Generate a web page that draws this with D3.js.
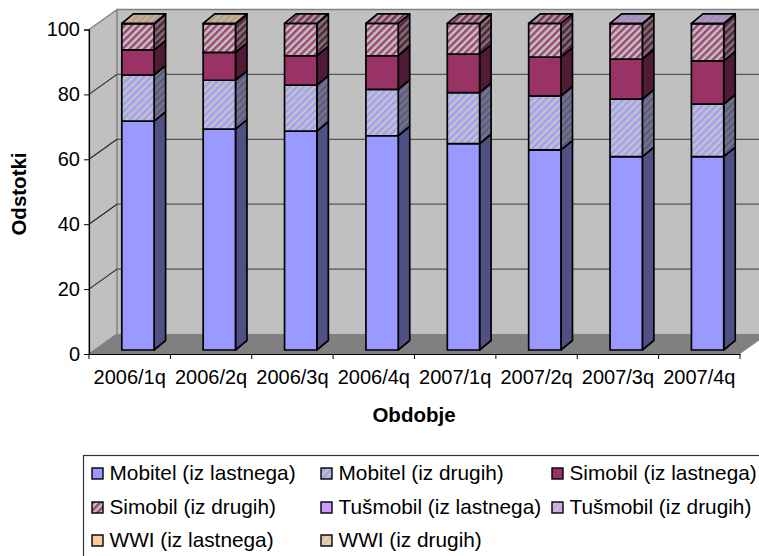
<!DOCTYPE html>
<html><head><meta charset="utf-8">
<script src="https://cdn.jsdelivr.net/npm/d3@7"></script>
<style>html,body{margin:0;padding:0;background:#fff}svg{display:block}text{font-family:"Liberation Sans",Arial,sans-serif;fill:#000}</style>
</head><body><svg id="c" width="759" height="556"></svg>
<script>
const categories=["2006/1q","2006/2q","2006/3q","2006/4q","2007/1q","2007/2q","2007/3q","2007/4q"];
const seriesNames=["Mobitel (iz lastnega)","Mobitel (iz drugih)","Simobil (iz lastnega)","Simobil (iz drugih)","Tušmobil (iz lastnega)","Tušmobil (iz drugih)","WWI (iz lastnega)","WWI (iz drugih)"];
const mobitelOwn=[70.1,67.6,67.0,65.6,63.2,61.3,59.2,59.2];
const mobitelOther=[14.1,15.0,14.1,14.2,15.6,16.5,17.6,16.1];
const simobilOwn=[7.7,8.5,9.0,10.3,11.8,11.9,12.3,13.2];
const simobilOther=[8.0,8.8,9.9,9.9,9.4,10.3,10.8,11.4];
const tusmobilOwn=[0,0,0,0,0,0,0,0];
const tusmobilOther=[0,0,0,0,0,0,0.1,0.1];
const wwiOwn=[0,0,0,0,0,0,0,0];
const wwiOther=[0.1,0.1,0,0,0,0,0,0];
const seriesValues=[mobitelOwn,mobitelOther,simobilOwn,simobilOther,tusmobilOwn,tusmobilOther,wwiOwn,wwiOther];
const baseColors=["#9999ff","#9999ff","#993366","#993366","#cc99ff","#cc99ff","#ffcc99","#ffcc99"];
const hatched=[false,true,false,true,false,true,false,true];
const yTicks=[0,20,40,60,80,100];
const legendCols=[92,321,552], legendRows=[468,502,535];

const svg=d3.select("#c");
const defs=svg.append("defs");
const gray="#c0c0c0";
function pat(id,bg,fg){
  const p=defs.append("pattern").attr("id",id).attr("patternUnits","userSpaceOnUse")
    .attr("width",5).attr("height",5).attr("patternTransform","rotate(45)");
  p.append("rect").attr("width",5).attr("height",5).attr("fill",bg);
  p.append("rect").attr("width",2.5).attr("height",5).attr("fill",fg);
}
function dim(c,k){const r=d3.rgb(c);return d3.rgb(r.r*k,r.g*k,r.b*k).formatHex();}
baseColors.forEach((c,i)=>{
  if(hatched[i]){
    const soft=d3.interpolateRgb(c,"#c8c8c8")(0.12);
    pat("front"+i,"#c4c4c4",soft);
    pat("side"+i,dim(gray,0.62),dim(c,0.58));
    pat("top"+i,dim(gray,0.85),dim(c,0.85));
  }
});
const fillFront=i=>hatched[i]?`url(#front${i})`:baseColors[i];
const fillSide=i=>hatched[i]?`url(#side${i})`:dim(baseColors[i],0.52);
const fillTop=i=>hatched[i]?`url(#top${i})`:dim(baseColors[i],0.8);

// frame
const x0=89,x1=740,wallDx=28,wallDy=-20,axisTop=29.5,axisBase=354;
const yAxisS=d3.scaleLinear().domain([0,100]).range([axisBase,axisTop]);
const yBar=d3.scaleLinear().domain([0,100]).range([350,23.4]);
const xBand=d3.scaleBand().domain(categories).range([x0,x1]);
const barW=32.3,barOff=32.8,bDx=11.5,bDy=-9.5;
const poly=p=>p.map(a=>a.join(",")).join(" ");

svg.append("polygon").attr("points",poly([[x0+wallDx,axisTop+wallDy],[x1+wallDx,axisTop+wallDy],[x1+wallDx,axisBase+wallDy],[x0+wallDx,axisBase+wallDy]]))
  .attr("fill",gray);
svg.append("polygon").attr("points",poly([[x0,axisBase],[x0+wallDx,axisBase+wallDy],[x0+wallDx,axisTop+wallDy],[x0,axisTop]]))
  .attr("fill",gray).attr("stroke","#808080").attr("stroke-width",1.4);
svg.append("line").attr("x1",x0+wallDx).attr("x2",x1+wallDx).attr("y1",axisTop+wallDy).attr("y2",axisTop+wallDy).attr("stroke","#808080").attr("stroke-width",1.6);
svg.append("polygon").attr("points",poly([[x0,axisBase],[x0+wallDx,axisBase+wallDy],[x1+wallDx,axisBase+wallDy],[x1,axisBase]]))
  .attr("fill","#808080");
yTicks.slice(1).forEach(t=>{
  const y=yAxisS(t);
  if(t<100){
    svg.append("line").attr("x1",x0).attr("y1",y).attr("x2",x0+wallDx).attr("y2",y+wallDy).attr("stroke","#222").attr("stroke-width",1.1);
    svg.append("line").attr("x1",x0+wallDx).attr("y1",y+wallDy).attr("x2",x1+wallDx).attr("y2",y+wallDy).attr("stroke","#555").attr("stroke-width",1.3);
  }
});

// bars
const stack=categories.map((c,ci)=>{let acc=0;return seriesValues.map((v,si)=>{const a=acc;acc+=v[ci];return {si,a,b:acc,v:v[ci]};}).filter(d=>d.v>0);});
const gBars=svg.append("g").attr("stroke","#000").attr("stroke-width",1.7).attr("stroke-linejoin","round");
categories.forEach((c,ci)=>{
  const xl=xBand(c)+barOff, xr=xl+barW, g=gBars.append("g");
  stack[ci].forEach(d=>{
    const yb=yBar(d.a), yt=yBar(d.b);
    g.append("polygon").attr("points",poly([[xr,yb],[xr+bDx,yb+bDy],[xr+bDx,yt+bDy],[xr,yt]])).attr("fill",fillSide(d.si));
    g.append("rect").attr("x",xl).attr("y",yt).attr("width",barW).attr("height",yb-yt).attr("fill",fillFront(d.si));
  });
  const last=stack[ci][stack[ci].length-1], yt=yBar(last.b);
  g.append("polygon").attr("points",poly([[xl,yt],[xl+bDx,yt+bDy],[xr+bDx,yt+bDy],[xr,yt]])).attr("fill",fillTop(last.si));
});

// axes
const yAxis=d3.axisLeft(yAxisS).tickValues(yTicks).tickSize(5).tickPadding(4);
const ya=svg.append("g").attr("transform",`translate(${x0},0)`).call(yAxis);
const xAxis=d3.axisBottom(xBand).tickSize(0).tickPadding(0);
const xa=svg.append("g").attr("transform",`translate(0,${axisBase})`).call(xAxis);
xBand.domain().concat(["end"]).forEach((c,i)=>{
  xa.append("line").attr("x1",x0+i*xBand.step()).attr("x2",x0+i*xBand.step()).attr("y1",0).attr("y2",5).attr("stroke","#000");
});
[ya,xa].forEach(a=>{a.selectAll("path").attr("stroke","#000").attr("stroke-width",1.2);a.selectAll("line").attr("stroke","#000");
  a.selectAll("text").style("font-size","20px").style("font-family","'Liberation Sans',Arial,sans-serif").attr("fill","#000");});
xa.selectAll(".tick text").attr("dy",null).attr("y",30);

svg.append("text").attr("x",414).attr("y",422).attr("text-anchor","middle").style("font-weight","bold").style("font-size","20.5px").text("Obdobje");
svg.append("text").attr("transform","translate(26,194) rotate(-90)").attr("text-anchor","middle").style("font-weight","bold").style("font-size","20.5px").text("Odstotki");

// legend
svg.append("rect").attr("x",83.5).attr("y",455.5).attr("width",690).attr("height",110).attr("fill","#fff").attr("stroke","#333").attr("stroke-width",1.2);
const perRow=3;
seriesNames.forEach((n,i)=>{
  const lx=legendCols[i%perRow], ly=legendRows[Math.floor(i/perRow)];
  svg.append("rect").attr("x",lx).attr("y",ly).attr("width",11).attr("height",11).attr("fill",fillFront(i)).attr("stroke","#000").attr("stroke-width",1.4);
  svg.append("text").attr("x",lx+17.5).attr("y",ly+12).style("font-size","20.8px").text(n);
});
</script></body></html>
